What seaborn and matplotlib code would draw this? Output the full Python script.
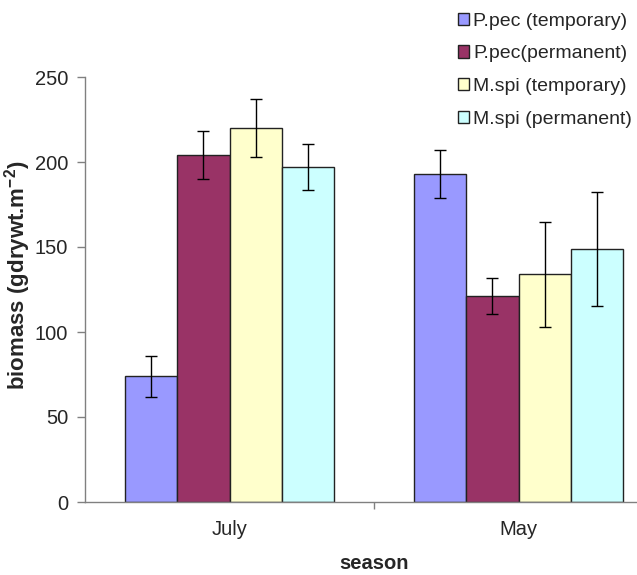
import numpy as np
import pandas as pd
import matplotlib
matplotlib.use("Agg")
import matplotlib.pyplot as plt
import seaborn as sns

seasons = ["July", "May"]
groups = ["P.pec (temporary)", "P.pec(permanent)", "M.spi (temporary)", "M.spi (permanent)"]
july_mean = [74, 204, 220, 197]
july_err = [12, 14, 17, 13.5]
may_mean = [193, 121, 134, 149]
may_err = [14, 10.5, 31, 33.5]
colors = ["#9999FF", "#993366", "#FFFFCC", "#CCFFFF"]

df = pd.DataFrame({
    "season": np.repeat(seasons, len(groups)),
    "group": groups * 2,
    "biomass": july_mean + may_mean,
    "err": july_err + may_err,
})

sns.set_style("white")
plt.rcParams["font.family"] = ["Liberation Sans", "DejaVu Sans"]
plt.rcParams["mathtext.fontset"] = "custom"
plt.rcParams["mathtext.rm"] = "Liberation Sans"
plt.rcParams["mathtext.bf"] = "Liberation Sans:bold"

fig = plt.figure(figsize=(6.37, 5.75), dpi=100)
# axis runs off the right edge like the original
ax = fig.add_axes([85 / 637, 73 / 575, 578 / 637, 425 / 575])

sns.barplot(data=df, x="season", y="biomass", hue="group", order=seasons,
            hue_order=groups, palette=colors, errorbar=None, width=0.725,
            edgecolor="#222222", linewidth=1.0, saturation=1, ax=ax)

# error bars at the bar centres (patches come out hue by hue)
for i, g in enumerate(groups):
    for j, s in enumerate(seasons):
        p = ax.patches[i * len(seasons) + j]
        row = df[(df.season == s) & (df.group == g)].iloc[0]
        cx = p.get_x() + p.get_width() / 2
        ax.errorbar(cx, row["biomass"], yerr=row["err"], fmt="none",
                    ecolor="black", elinewidth=1, capsize=4.5, capthick=1)

ax.set_ylim(0, 250)
ax.set_yticks([0, 50, 100, 150, 200, 250])
ax.set_xlim(-0.5, 1.5)
ax.set_xticks([0.5], minor=True)
ax.tick_params(axis="x", which="major", length=0, labelsize=14.5, pad=13)
ax.tick_params(axis="x", which="minor", length=5, color="#808080", width=1, direction="out", bottom=True)
ax.tick_params(axis="y", length=6, color="#808080", width=1, direction="out", left=True,
               labelsize=14.5, pad=6)
sns.despine(ax=ax, top=True, right=True)
for s in ["left", "bottom"]:
    ax.spines[s].set_color("#808080")
    ax.spines[s].set_linewidth(1)

ax.set_xlabel("season", fontsize=14.5, fontweight="bold", labelpad=11)
ax.set_ylabel("biomass (gdrywt.m$^{\\mathbf{-2}}$)", fontsize=16, fontweight="bold")
ax.yaxis.set_label_coords((33 - 85) / 578, (502 - 275) / 425)

handles, labels = ax.get_legend_handles_labels()
ax.legend(handles, labels, loc="upper left", bbox_to_anchor=(450 / 637, 1 - 5 / 575),
          bbox_transform=fig.transFigure, frameon=False, fontsize=14,
          handlelength=0.6, handleheight=0.6, handletextpad=0.2,
          labelspacing=0.8, borderaxespad=0)

fig.savefig("out.png", dpi=100)
